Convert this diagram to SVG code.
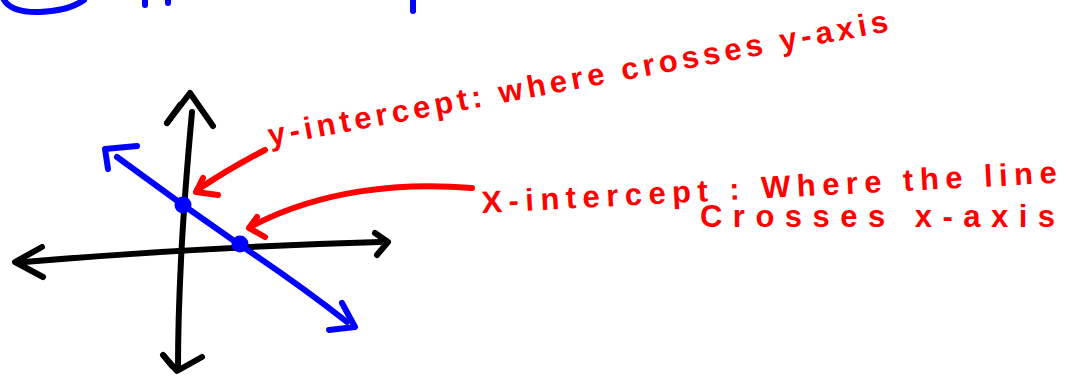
<svg xmlns="http://www.w3.org/2000/svg" width="1066" height="379" viewBox="0 0 1066 379">
<style>
.k{fill:none;stroke:#000;stroke-width:6;stroke-linecap:round;stroke-linejoin:round}
.b{fill:none;stroke:#0000ff;stroke-width:6;stroke-linecap:round;stroke-linejoin:round}
.r{fill:none;stroke:#ff0000;stroke-width:6;stroke-linecap:round;stroke-linejoin:round}
.t{fill:#ff0000;font-family:"Liberation Sans",Arial,sans-serif;font-size:31px;font-weight:bold}
.d{fill:#0000ff}
</style>
<rect width="1066" height="379" fill="#fff"/>
<g id="title-marks">
<path class="b" d="M4,0 Q12,13 40,12 Q68,11 84,0"/>
<path class="b" d="M145,0 L145,5"/>
<path class="b" d="M168,0 L168,3"/>
<path class="b" d="M413,0 L413,11" stroke-width="7"/>
</g>
<g id="y-axis">
<path class="k" d="M192,112 Q184,200 181,260 T178,368"/>
<path class="k" d="M167,123 L190,93 L213,126"/>
<path class="k" d="M167,123 L180,105" stroke-width="9"/>
<path class="k" d="M163,355 L177,371 L202,357"/>
<path class="k" d="M164,356 L172,366" stroke-width="9"/>
</g>
<g id="x-axis">
<path class="k" d="M24,262 Q200,247 380,242"/>
<path class="k" d="M42,247 L15,262 L43,277"/>
<path class="k" d="M375,233 L388,242 L377,255"/>
</g>
<g id="line">
<path class="b" d="M117,157 L183,205 L240,245 Q300,285 347,322"/>
<path class="b" d="M137,146 L105,149 L108,169"/>
<path class="b" d="M342,303 L355,327 L329,330"/>
</g>
<g id="y-intercept-point"><circle class="d" cx="183" cy="205" r="8.5"/></g>
<g id="x-intercept-point"><circle class="d" cx="240" cy="244" r="8.5"/></g>
<g id="y-intercept-label">
<text class="t" x="270" y="146" transform="rotate(-10.5 270 146)" textLength="630" lengthAdjust="spacing">y-intercept: where crosses y-axis</text>
</g>
<g id="x-intercept-label">
<text class="t" x="482" y="213" transform="rotate(-3 482 213)" textLength="576" lengthAdjust="spacing">X-intercept : Where the line</text>
<text class="t" x="700" y="227" textLength="355" lengthAdjust="spacing">Crosses  x-axis</text>
</g>
<g id="connectors">
<path class="r" d="M265,150 Q230,168 197,190"/>
<path class="r" d="M203,178 L196,192 L218,195"/>
<path class="r" d="M472,188 C400,182 320,190 250,227"/>
<path class="r" d="M257,217 L249,228 L265,237"/>
</g>
</svg>
